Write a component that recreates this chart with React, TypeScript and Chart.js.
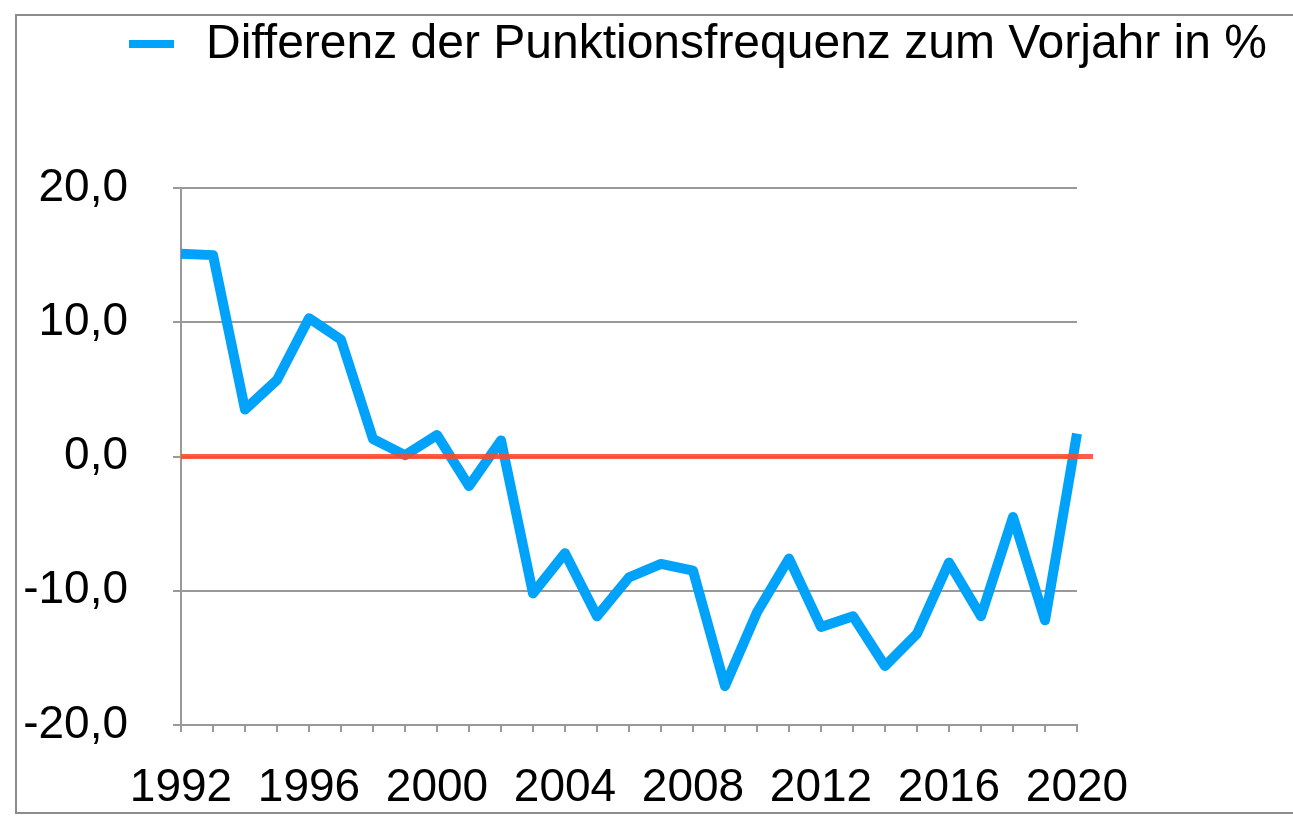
import React, { useEffect, useRef } from "react";
import { Chart, registerables } from "chart.js";

Chart.register(...registerables);

const YEARS: string[] = [
  "1992", "1993", "1994", "1995", "1996", "1997", "1998", "1999", "2000", "2001",
  "2002", "2003", "2004", "2005", "2006", "2007", "2008", "2009", "2010", "2011",
  "2012", "2013", "2014", "2015", "2016", "2017", "2018", "2019", "2020",
];

const DIFF_VALUES: number[] = [
  15.1, 15.0, 3.5, 5.7, 10.3, 8.7, 1.3, 0.1, 1.6, -2.2,
  1.2, -10.2, -7.2, -11.9, -9.0, -8.0, -8.5, -17.1, -11.6, -7.6,
  -12.7, -11.9, -15.6, -13.2, -7.9, -11.9, -4.5, -12.2, 1.7,
];

const SERIES_LABEL = "Differenz der Punktionsfrequenz zum Vorjahr in %";
const REFERENCE_VALUE = 0;
const Y_MIN = -20;
const Y_MAX = 20;
const Y_STEP = 10;

const BLUE = "#00A2FA";
const RED = "rgba(255, 72, 40, 0.88)";
const GREY = "#999999";
const FONT = "'Liberation Sans', Arial, Helvetica, sans-serif";

const W = 1293;
const H = 821;

const extrasPlugin = {
  id: "extras",
  afterDatasetsDraw(chart: any) {
    const ctx = chart.ctx;
    const y = chart.scales.y.getPixelForValue(REFERENCE_VALUE);
    const area = chart.chartArea;
    ctx.save();
    ctx.strokeStyle = RED;
    ctx.lineWidth = 5;
    ctx.beginPath();
    ctx.moveTo(area.left, y);
    ctx.lineTo(area.right + 16, y);
    ctx.stroke();
    ctx.restore();
  },
  afterDraw(chart: any) {
    const ctx = chart.ctx;
    const ds = chart.data.datasets[0];
    ctx.save();
    ctx.strokeStyle = ds.borderColor;
    ctx.lineWidth = 8;
    ctx.beginPath();
    ctx.moveTo(129, 44);
    ctx.lineTo(174, 44);
    ctx.stroke();
    ctx.fillStyle = "#000";
    ctx.font = `48px ${FONT}`;
    ctx.textBaseline = "middle";
    ctx.textAlign = "left";
    ctx.fillText(ds.label, 206, 45);
    ctx.restore();
  },
};

export default function App() {
  const ref = useRef<HTMLCanvasElement | null>(null);

  useEffect(() => {
    if (!ref.current) return;
    const chart = new Chart(ref.current, {
      type: "line",
      data: {
        labels: YEARS,
        datasets: [
          {
            label: SERIES_LABEL,
            data: DIFF_VALUES,
            borderColor: BLUE,
            backgroundColor: BLUE,
            borderWidth: 10,
            pointRadius: 0,
            pointHoverRadius: 0,
            tension: 0,
            borderJoinStyle: "round",
            borderCapStyle: "butt",
            fill: false,
          },
        ],
      },
      options: {
        responsive: false,
        animation: false,
        events: [],
        layout: { padding: { top: 188, left: 0, right: W - 1077, bottom: 0 } },
        plugins: {
          legend: { display: false },
          tooltip: { enabled: false },
          title: { display: false },
        },
        scales: {
          x: {
            type: "category",
            offset: false,
            afterFit: (scale: any) => {
              scale.height = H - 725;
            },
            grid: {
              display: true,
              drawOnChartArea: false,
              drawTicks: true,
              tickLength: 7,
              color: GREY,
              lineWidth: 2,
              offset: false,
            },
            border: { display: true, color: GREY, width: 2 },
            ticks: {
              autoSkip: false,
              maxRotation: 0,
              minRotation: 0,
              padding: 29,
              color: "#000",
              font: { family: FONT, size: 46 },
              callback: (_v: any, i: number) => (Number(YEARS[i]) % 4 === 0 ? YEARS[i] : ""),
            },
          },
          y: {
            min: Y_MIN,
            max: Y_MAX,
            afterFit: (scale: any) => {
              scale.width = 181;
            },
            grid: {
              color: GREY,
              lineWidth: 2,
              tickLength: 8,
              drawTicks: true,
            },
            border: { display: true, color: GREY, width: 2 },
            ticks: {
              stepSize: Y_STEP,
              padding: 45,
              color: "#000",
              font: { family: FONT, size: 46 },
              callback: (v: any) => Number(v).toFixed(1).replace(".", ","),
            },
          },
        },
      },
      plugins: [extrasPlugin],
    } as any);
    return () => chart.destroy();
  }, []);

  return (
    <div style={{ position: "absolute", left: 0, top: 0, width: W, height: H, background: "#fff", overflow: "hidden" }}>
      <div
        style={{
          position: "absolute",
          left: 15,
          top: 14,
          width: W,
          height: 814 - 14,
          border: "2px solid #8c8c8c",
          boxSizing: "border-box",
        }}
      />
      <canvas ref={ref} width={W} height={H} style={{ position: "absolute", left: 0, top: 0, width: W, height: H }} />
    </div>
  );
}
